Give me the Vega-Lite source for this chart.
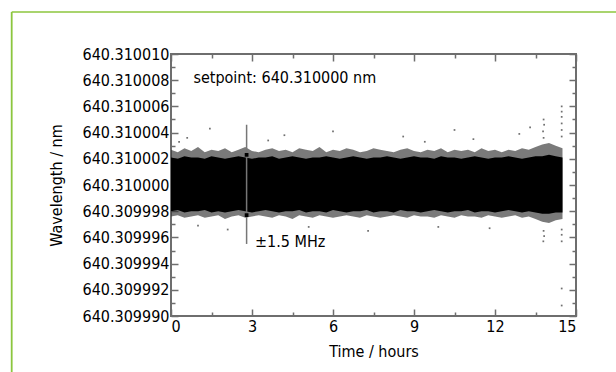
{
  "$schema": "https://vega.github.io/schema/vega-lite/v6.json",
  "autosize": "none",
  "width": 405,
  "height": 262,
  "padding": {"left": 171, "top": 54, "right": 40, "bottom": 56},
  "background": "white",
  "config": {
    "font": "DejaVu Sans Condensed, DejaVu Sans, sans-serif",
    "view": {"stroke": "#6e6e6e", "strokeWidth": 2},
    "axis": {
      "labelFontSize": 16, "labelColor": "black", "titleFontSize": 16, "titleFontWeight": "normal", "titleColor": "black",
      "domain": false, "grid": false, "tickColor": "#6e6e6e", "tickWidth": 1.5
    }
  },
  "datasets": {
    "band": [
      {"t":0,"hi":640.3100021,"lo":640.309998,"fhi":640.3100027,"flo":640.3099976},
      {"t":0.25,"hi":640.310002,"lo":640.3099981,"fhi":640.3100025,"flo":640.3099977},
      {"t":0.5,"hi":640.3100022,"lo":640.3099979,"fhi":640.3100028,"flo":640.3099975},
      {"t":0.75,"hi":640.3100021,"lo":640.309998,"fhi":640.3100026,"flo":640.3099976},
      {"t":1,"hi":640.3100021,"lo":640.309998,"fhi":640.3100029,"flo":640.3099977},
      {"t":1.25,"hi":640.310002,"lo":640.3099981,"fhi":640.3100025,"flo":640.3099975},
      {"t":1.5,"hi":640.3100022,"lo":640.3099979,"fhi":640.3100027,"flo":640.3099976},
      {"t":1.75,"hi":640.3100021,"lo":640.309998,"fhi":640.3100026,"flo":640.3099977},
      {"t":2,"hi":640.310002,"lo":640.3099979,"fhi":640.3100028,"flo":640.3099974},
      {"t":2.25,"hi":640.3100021,"lo":640.309998,"fhi":640.3100025,"flo":640.3099976},
      {"t":2.5,"hi":640.3100022,"lo":640.3099981,"fhi":640.3100027,"flo":640.3099977},
      {"t":2.75,"hi":640.3100021,"lo":640.309998,"fhi":640.3100029,"flo":640.3099975},
      {"t":3,"hi":640.310002,"lo":640.3099979,"fhi":640.3100026,"flo":640.3099976},
      {"t":3.25,"hi":640.3100021,"lo":640.309998,"fhi":640.3100025,"flo":640.3099977},
      {"t":3.5,"hi":640.3100021,"lo":640.3099981,"fhi":640.3100027,"flo":640.3099976},
      {"t":3.75,"hi":640.3100022,"lo":640.309998,"fhi":640.3100028,"flo":640.3099975},
      {"t":4,"hi":640.310002,"lo":640.3099979,"fhi":640.3100026,"flo":640.3099977},
      {"t":4.25,"hi":640.3100021,"lo":640.309998,"fhi":640.3100027,"flo":640.3099976},
      {"t":4.5,"hi":640.3100022,"lo":640.309998,"fhi":640.3100025,"flo":640.3099974},
      {"t":4.75,"hi":640.3100021,"lo":640.3099981,"fhi":640.3100028,"flo":640.3099977},
      {"t":5,"hi":640.310002,"lo":640.3099979,"fhi":640.3100027,"flo":640.3099976},
      {"t":5.25,"hi":640.3100021,"lo":640.309998,"fhi":640.3100026,"flo":640.3099975},
      {"t":5.5,"hi":640.3100021,"lo":640.309998,"fhi":640.3100029,"flo":640.3099977},
      {"t":5.75,"hi":640.3100022,"lo":640.3099979,"fhi":640.3100025,"flo":640.3099976},
      {"t":6,"hi":640.3100021,"lo":640.3099981,"fhi":640.3100027,"flo":640.3099975},
      {"t":6.25,"hi":640.310002,"lo":640.309998,"fhi":640.3100026,"flo":640.3099976},
      {"t":6.5,"hi":640.3100021,"lo":640.3099979,"fhi":640.3100028,"flo":640.3099977},
      {"t":6.75,"hi":640.3100022,"lo":640.309998,"fhi":640.3100027,"flo":640.3099976},
      {"t":7,"hi":640.3100021,"lo":640.309998,"fhi":640.3100025,"flo":640.3099975},
      {"t":7.25,"hi":640.310002,"lo":640.3099981,"fhi":640.3100026,"flo":640.3099977},
      {"t":7.5,"hi":640.3100021,"lo":640.3099979,"fhi":640.3100028,"flo":640.3099976},
      {"t":7.75,"hi":640.3100021,"lo":640.309998,"fhi":640.3100027,"flo":640.3099975},
      {"t":8,"hi":640.3100022,"lo":640.309998,"fhi":640.3100026,"flo":640.3099976},
      {"t":8.25,"hi":640.3100021,"lo":640.3099979,"fhi":640.3100025,"flo":640.3099977},
      {"t":8.5,"hi":640.310002,"lo":640.3099981,"fhi":640.3100027,"flo":640.3099976},
      {"t":8.75,"hi":640.3100021,"lo":640.309998,"fhi":640.3100028,"flo":640.3099975},
      {"t":9,"hi":640.3100022,"lo":640.309998,"fhi":640.3100026,"flo":640.3099977},
      {"t":9.25,"hi":640.3100021,"lo":640.3099979,"fhi":640.3100025,"flo":640.3099976},
      {"t":9.5,"hi":640.3100021,"lo":640.309998,"fhi":640.3100027,"flo":640.3099976},
      {"t":9.75,"hi":640.310002,"lo":640.3099981,"fhi":640.3100026,"flo":640.3099975},
      {"t":10,"hi":640.3100022,"lo":640.309998,"fhi":640.3100028,"flo":640.3099977},
      {"t":10.25,"hi":640.3100021,"lo":640.3099979,"fhi":640.3100025,"flo":640.3099976},
      {"t":10.5,"hi":640.3100021,"lo":640.309998,"fhi":640.3100027,"flo":640.3099975},
      {"t":10.75,"hi":640.310002,"lo":640.309998,"fhi":640.3100026,"flo":640.3099977},
      {"t":11,"hi":640.3100021,"lo":640.3099981,"fhi":640.3100027,"flo":640.3099976},
      {"t":11.25,"hi":640.3100022,"lo":640.3099979,"fhi":640.3100025,"flo":640.3099976},
      {"t":11.5,"hi":640.3100021,"lo":640.309998,"fhi":640.3100028,"flo":640.3099975},
      {"t":11.75,"hi":640.310002,"lo":640.309998,"fhi":640.3100026,"flo":640.3099977},
      {"t":12,"hi":640.3100021,"lo":640.3099979,"fhi":640.3100027,"flo":640.3099976},
      {"t":12.25,"hi":640.3100021,"lo":640.309998,"fhi":640.3100025,"flo":640.3099975},
      {"t":12.5,"hi":640.3100022,"lo":640.3099981,"fhi":640.3100027,"flo":640.3099976},
      {"t":12.75,"hi":640.3100021,"lo":640.309998,"fhi":640.3100026,"flo":640.3099977},
      {"t":13,"hi":640.310002,"lo":640.3099979,"fhi":640.3100028,"flo":640.3099975},
      {"t":13.25,"hi":640.3100021,"lo":640.309998,"fhi":640.3100027,"flo":640.3099976},
      {"t":13.5,"hi":640.3100022,"lo":640.3099979,"fhi":640.3100029,"flo":640.3099974},
      {"t":13.75,"hi":640.3100022,"lo":640.3099978,"fhi":640.3100031,"flo":640.3099972},
      {"t":14,"hi":640.3100023,"lo":640.3099978,"fhi":640.3100032,"flo":640.3099971},
      {"t":14.25,"hi":640.3100022,"lo":640.3099979,"fhi":640.310003,"flo":640.3099973},
      {"t":14.5,"hi":640.3100021,"lo":640.3099979,"fhi":640.3100028,"flo":640.3099974}
    ],
    "outliers": [
      {"t":1.44,"v":640.3100043},{"t":0.6,"v":640.3100036},{"t":2.1,"v":640.3099966},{"t":4.2,"v":640.3100038},
      {"t":6.0,"v":640.3100041},{"t":7.3,"v":640.3099965},{"t":8.6,"v":640.3100037},{"t":10.5,"v":640.3100042},
      {"t":11.8,"v":640.3099967},{"t":12.9,"v":640.3100039},{"t":13.3,"v":640.3100044},
      {"t":0.3,"v":640.3100033},{"t":1.0,"v":640.3099969},{"t":3.6,"v":640.3100034},{"t":5.1,"v":640.3099968},
      {"t":9.4,"v":640.3100033},{"t":11.2,"v":640.3100035},{"t":9.9,"v":640.3099968},
      {"t":13.8,"v":640.310005},{"t":13.82,"v":640.3100046},{"t":13.78,"v":640.3100041},{"t":13.8,"v":640.3100036},
      {"t":13.8,"v":640.3099965},{"t":13.82,"v":640.3099961},{"t":13.79,"v":640.3099957},
      {"t":14.47,"v":640.310006},{"t":14.47,"v":640.3100056},{"t":14.47,"v":640.3100052},{"t":14.47,"v":640.3100047},
      {"t":14.47,"v":640.3100042},{"t":14.47,"v":640.3100037},{"t":14.47,"v":640.3099966},{"t":14.47,"v":640.3099962},
      {"t":14.47,"v":640.3099957},{"t":14.47,"v":640.3099921},{"t":14.47,"v":640.3099908}
    ]
  },
  "layer": [
    {
      "data": {"name": "band"},
      "mark": {"type": "area", "color": "#333", "opacity": 0.65},
      "encoding": {
        "x": {"field": "t", "type": "quantitative", "scale": {"domain": [0, 15], "nice": false, "zero": false},
              "axis": {"orient": "top", "values": [0,1.5,3,4.5,6,7.5,9,10.5,12,13.5,15], "labels": false, "title": null,
                       "tickSize": {"condition": {"test": "round(datum.value*10) % 30 == 0", "value": -7}, "value": -4}}},
        "y": {"field": "fhi", "type": "quantitative", "scale": {"domain": [640.30999, 640.31001], "nice": false, "zero": false},
              "axis": {"orient": "right", "labels": false, "title": null,
                       "values": [640.30999,640.309991,640.309992,640.309993,640.309994,640.309995,640.309996,640.309997,640.309998,640.309999,640.31,640.310001,640.310002,640.310003,640.310004,640.310005,640.310006,640.310007,640.310008,640.310009,640.31001],
                       "tickSize": {"condition": {"test": "round(datum.value*1e6) % 2 == 0", "value": -7}, "value": -4}}},
        "y2": {"field": "flo"}
      }
    },
    {
      "data": {"name": "band"},
      "mark": {"type": "area", "color": "black"},
      "encoding": {
        "x": {"field": "t", "type": "quantitative",
              "axis": {"orient": "bottom", "values": [0,1.5,3,4.5,6,7.5,9,10.5,12,13.5,15], "title": "Time / hours",
                       "labelExpr": "round(datum.value*10) % 30 == 0 ? datum.label : ''", "labelPadding": 9, "titlePadding": 9,
                       "tickSize": {"condition": {"test": "round(datum.value*10) % 30 == 0", "value": -7}, "value": -4}}},
        "y": {"field": "hi", "type": "quantitative",
              "axis": {"orient": "left", "title": "Wavelength / nm", "format": ".6f", "labelPadding": 9, "titlePadding": 18,
                       "values": [640.30999,640.309991,640.309992,640.309993,640.309994,640.309995,640.309996,640.309997,640.309998,640.309999,640.31,640.310001,640.310002,640.310003,640.310004,640.310005,640.310006,640.310007,640.310008,640.310009,640.31001],
                       "labelExpr": "round(datum.value*1e6) % 2 == 0 ? datum.label : ''",
                       "tickSize": {"condition": {"test": "round(datum.value*1e6) % 2 == 0", "value": -7}, "value": -4}}},
        "y2": {"field": "lo"}
      }
    },
    {
      "data": {"name": "outliers"},
      "mark": {"type": "point", "shape": "square", "filled": true, "size": 3, "color": "#333"},
      "encoding": {
        "x": {"field": "t", "type": "quantitative", "axis": null},
        "y": {"field": "v", "type": "quantitative", "axis": null}
      }
    },
    {
      "data": {"values": [{"t": 2.8, "lo": 640.3099955, "hi": 640.3100046}]},
      "mark": {"type": "rule", "color": "#777", "strokeWidth": 1.5},
      "encoding": {
        "x": {"field": "t", "type": "quantitative", "axis": null},
        "y": {"field": "lo", "type": "quantitative", "axis": null},
        "y2": {"field": "hi"}
      }
    },
    {
      "data": {"values": [{"t": 2.8, "v": 640.3100023}, {"t": 2.8, "v": 640.3099977}]},
      "mark": {"type": "point", "shape": "square", "filled": true, "size": 14, "color": "black", "opacity": 1},
      "encoding": {
        "x": {"field": "t", "type": "quantitative", "axis": null},
        "y": {"field": "v", "type": "quantitative", "axis": null}
      }
    },
    {
      "data": {"values": [
        {"t": 0.83, "v": 640.3100078, "label": "setpoint: 640.310000 nm"},
        {"t": 3.11, "v": 640.3099953, "label": "±1.5 MHz"}
      ]},
      "mark": {"type": "text", "align": "left", "baseline": "alphabetic", "fontSize": 16, "color": "black"},
      "encoding": {
        "x": {"field": "t", "type": "quantitative", "axis": null},
        "y": {"field": "v", "type": "quantitative", "axis": null},
        "text": {"field": "label"}
      }
    },
    {
      "data": {"values": [{"x1": -5.9, "x2": 17, "y1": 640.3100132}]},
      "mark": {"type": "rule", "color": "#8cc63e", "strokeWidth": 1.5},
      "encoding": {
        "x": {"field": "x1", "type": "quantitative", "axis": null},
        "x2": {"field": "x2"},
        "y": {"field": "y1", "type": "quantitative", "axis": null}
      }
    },
    {
      "data": {"values": [{"x1": -5.9, "y1": 640.3100132, "y2": 640.30998}]},
      "mark": {"type": "rule", "color": "#8cc63e", "strokeWidth": 1.8},
      "encoding": {
        "x": {"field": "x1", "type": "quantitative", "axis": null},
        "y": {"field": "y1", "type": "quantitative", "axis": null},
        "y2": {"field": "y2"}
      }
    }
  ],
  "resolve": {"axis": {"x": "independent", "y": "independent"}}
}
